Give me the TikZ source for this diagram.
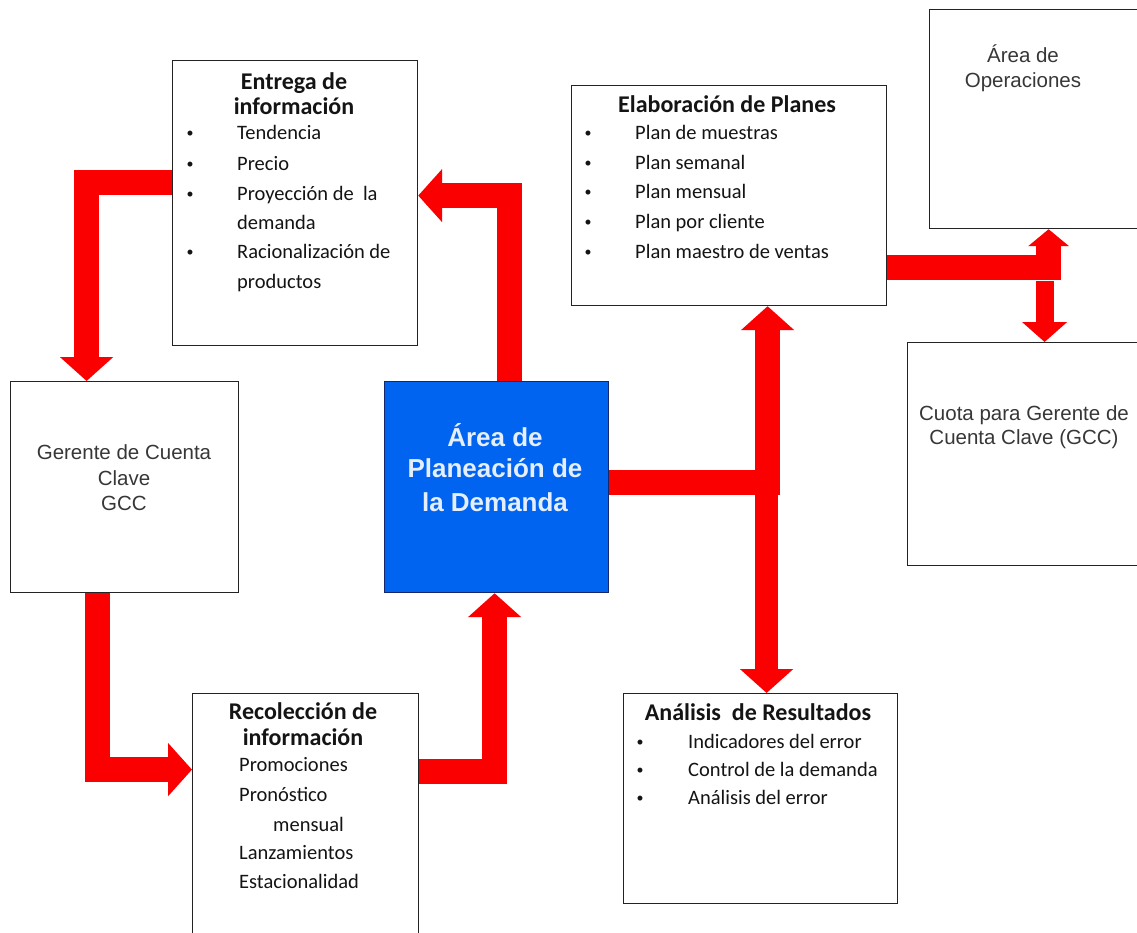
\documentclass[tikz,border=0pt]{standalone}
\usepackage{fontspec}
\setmainfont{Carlito}
\newfontfamily\arialfont{Liberation Sans}
\usetikzlibrary{arrows.meta,calc}

\definecolor{flowred}{RGB}{250,0,0}
\definecolor{planblue}{RGB}{0,100,240}
\definecolor{planedge}{RGB}{20,40,110}
\definecolor{planink}{RGB}{228,238,252}
\definecolor{boxline}{RGB}{35,35,35}
\definecolor{ink}{RGB}{20,20,20}

\tikzset{
  panel/.style={draw=boxline, line width=1.2pt, fill=white, rectangle,
                inner sep=0pt, anchor=north west},
  flow/.style={draw=flowred, line width=25pt, -{Triangle[width=52pt,length=24pt]}},
  flowsmall/.style={draw=flowred, line width=25pt, -{Triangle[width=40pt,length=17pt]}},
  flowthin/.style={draw=flowred, line width=18pt, -{Triangle[width=44pt,length=20pt]}},
  title/.style={font=\fontsize{24}{28}\selectfont\bfseries, text=ink, anchor=base, inner sep=0pt},
  entry/.style={font=\fontsize{20.5}{24}\selectfont, text=ink, anchor=base west, inner sep=0pt},
  dot/.style={font=\fontsize{14}{16}\selectfont, text=ink, anchor=base, inner sep=0pt, yshift=1.5pt},
  plain/.style={font=\arialfont\fontsize{20.5}{24}\selectfont, text=ink!85, anchor=base, inner sep=0pt},
  hub/.style={font=\arialfont\bfseries\fontsize{26}{30}\selectfont, text=planink, anchor=base, inner sep=0pt},
}

\begin{document}
\begin{tikzpicture}[x=1pt, y=-1pt]
\useasboundingbox (0,0) rectangle (1137,932);
\clip (0,0) rectangle (1137,932);

% boxes
\node[panel, minimum width=245pt, minimum height=285pt] (entrega) at (172,60) {};
\node[panel, minimum width=315pt, minimum height=220pt] (elab) at (571,85) {};
\node[panel, minimum width=208pt, minimum height=219pt] (oper) at (929,9) {};
\node[panel, minimum width=230pt, minimum height=223pt] (cuota) at (907,342) {};
\node[panel, minimum width=228pt, minimum height=211pt] (gerente) at (10,381) {};
\node[panel, fill=planblue, draw=planedge, minimum width=224pt, minimum height=211pt] (plan) at (384,381) {};
\node[panel, minimum width=226pt, minimum height=252pt] (recol) at (192,693) {};
\node[panel, minimum width=274pt, minimum height=210pt] (analisis) at (623,693) {};

% Entrega de información
\node[title] (entT1) at (294,89) {Entrega de};
\node[title] (entT2) at (294,114) {información};
\node[dot] (entB1) at (190,139) {\textbullet};
\node[entry] (entI1) at (237,139) {Tendencia};
\node[dot] (entB2) at (190,170) {\textbullet};
\node[entry] (entI2) at (237,170) {Precio};
\node[dot] (entB3) at (190,200) {\textbullet};
\node[entry] (entI3) at (237,200) {Proyección de\ \ la};
\node[entry] (entI4) at (237,229) {demanda};
\node[dot] (entB5) at (190,258) {\textbullet};
\node[entry] (entI5) at (237,258) {Racionalización de};
\node[entry] (entI6) at (237,288) {productos};

% Elaboración de Planes
\node[title] (elaT) at (727,112) {Elaboración de Planes};
\node[dot] (elaB1) at (588,139) {\textbullet};
\node[entry] (elaI1) at (635,139) {Plan de muestras};
\node[dot] (elaB2) at (588,169) {\textbullet};
\node[entry] (elaI2) at (635,169) {Plan semanal};
\node[dot] (elaB3) at (588,198) {\textbullet};
\node[entry] (elaI3) at (635,198) {Plan mensual};
\node[dot] (elaB4) at (588,228) {\textbullet};
\node[entry] (elaI4) at (635,228) {Plan por cliente};
\node[dot] (elaB5) at (588,258) {\textbullet};
\node[entry] (elaI5) at (635,258) {Plan maestro de ventas};

% Área de Operaciones
\node[plain] (opeT1) at (1023,62) {Área de};
\node[plain] (opeT2) at (1023,87) {Operaciones};

% Cuota
\node[plain] (cuoT1) at (1024,420) {Cuota para Gerente de};
\node[plain] (cuoT2) at (1024,444) {Cuenta Clave (GCC)};

% Gerente de Cuenta Clave
\node[plain] (gerT1) at (124,459) {Gerente de Cuenta};
\node[plain] (gerT2) at (124,485) {Clave};
\node[plain] (gerT3) at (124,510) {GCC};

% Área de Planeación de la Demanda
\node[hub] (hubT1) at (495,446) {Área de};
\node[hub] (hubT2) at (495,477) {Planeación de};
\node[hub] (hubT3) at (495,511) {la Demanda};

% Recolección de información
\node[title] (recT1) at (303,719) {Recolección de};
\node[title] (recT2) at (303,745) {información};
\node[entry] (recI1) at (239,771) {Promociones};
\node[entry] (recI2) at (239,801) {Pronóstico};
\node[entry] (recI3) at (273,831) {mensual};
\node[entry] (recI4) at (239,859) {Lanzamientos};
\node[entry] (recI5) at (239,888) {Estacionalidad};

% Análisis de Resultados
\node[title] (anaT) at (758,720) {Análisis\ \ de Resultados};
\node[dot] (anaB1) at (640,748) {\textbullet};
\node[entry] (anaI1) at (688,748) {Indicadores del error};
\node[dot] (anaB2) at (640,776) {\textbullet};
\node[entry] (anaI2) at (688,776) {Control de la demanda};
\node[dot] (anaB3) at (640,804) {\textbullet};
\node[entry] (anaI3) at (688,804) {Análisis del error};

% flow arrows
\draw[flow] ([xshift=13pt]plan.north) |- ([yshift=7.5pt]entrega.east);
\draw[flow] ([yshift=20.5pt]entrega.west) -| ([xshift=-38pt]gerente.north);
\draw[flow] ([xshift=-27pt]gerente.south) |- ([yshift=50pt]recol.west);
\draw[flow] ([yshift=48pt]recol.east) -| ([xshift=-2pt]plan.south);
\draw[flow] ([yshift=4.5pt]plan.east) -| ([xshift=38.5pt]elab.south);
\draw[flow, line width=23pt] ($(plan.east -| analisis.north)+(6,8)$) -- ([xshift=6pt]analisis.north);
\draw[flowsmall] ([yshift=-72pt]elab.east) -| ([xshift=15pt]oper.south);
\draw[flowthin] ($(cuota.north)+(22,-61)$) -- ([xshift=22pt]cuota.north);
\end{tikzpicture}
\end{document}
